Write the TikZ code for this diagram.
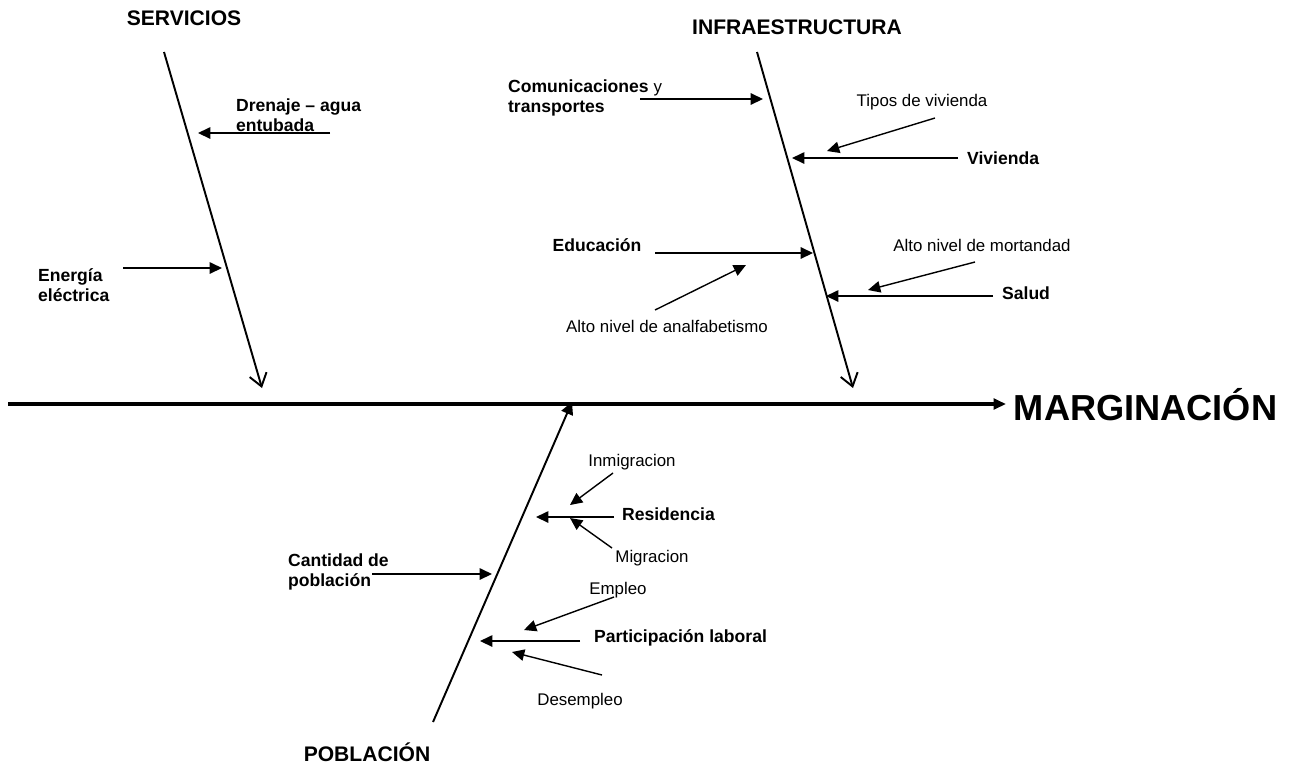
\documentclass[tikz,border=0pt]{standalone}
\usepackage{fontspec}
\setmainfont{Liberation Sans}
\usetikzlibrary{arrows.meta,positioning}

\begin{document}
\begin{tikzpicture}[x=0.02cm, y=-0.02cm,
    head/.style={font=\fontsize{12}{14}\selectfont\bfseries},
    cause/.style={font=\fontsize{10}{11.5}\selectfont\bfseries, align=left, inner sep=1pt},
    sub/.style={font=\fontsize{9.6}{11}\selectfont, inner sep=1pt},
    spine/.style={line width=1.1pt, -{Straight Barb[length=7pt,width=10pt]}},
    pop/.style={line width=1.1pt, -{Triangle[length=7pt,width=7pt]}},
    arrow/.style={line width=0.8pt, -{Triangle[length=7pt,width=6.5pt]}},
    mainline/.style={line width=2.8pt, -{Triangle[length=7pt,width=6pt]}}]

    \useasboundingbox (0,0) rectangle (1293,765);

    % Main spine
    \coordinate (m0) at (8,404);
    \coordinate (m1) at (1006,404);
    \node[font=\fontsize{20.6}{24}\selectfont\bfseries, anchor=west, inner sep=2pt] (marg) at (1010,405) {MARGINACIÓN};
    \draw[mainline] (m0) -- (m1);

    % Servicios
    \node[head] (serv) at (184,18) {SERVICIOS};
    \coordinate (s0) at (164,52);
    \coordinate (s1) at (262,388);
    \draw[spine] (s0) -- (s1);

    \node[cause, anchor=west] (drenaje) at (234,115) {Drenaje -- agua\\entubada};
    \coordinate (d0) at (330,133);
    \coordinate (d1) at (198,133);
    \draw[arrow] (d0) -- (d1);

    \node[cause, anchor=west] (energia) at (36,285) {Energía\\eléctrica};
    \coordinate (e0) at (123,268);
    \coordinate (e1) at (222,268);
    \draw[arrow] (e0) -- (e1);

    % Infraestructura
    \node[head] (infra) at (797,27) {INFRAESTRUCTURA};
    \coordinate (i0) at (757,52);
    \coordinate (i1) at (853,388);
    \draw[spine] (i0) -- (i1);

    \node[cause, anchor=west] (comun) at (506,98) {Comunicaciones {\mdseries\fontsize{9.6}{11}\selectfont y}\\transportes};
    \coordinate (c0) at (640,99);
    \coordinate (c1) at (763,99);
    \draw[arrow] (c0) -- (c1);

    \node[sub] (tipos) at (922,102) {Tipos de vivienda};
    \coordinate (t0) at (935,118);
    \coordinate (t1) at (827,151);
    \draw[arrow] (t0) -- (t1);

    \node[cause, anchor=west] (vivienda) at (965,158) {Vivienda};
    \coordinate (v0) at (958,158);
    \coordinate (v1) at (792,158);
    \draw[arrow] (v0) -- (v1);

    \node[cause] (educ) at (597,245) {Educación};
    \coordinate (ed0) at (655,253);
    \coordinate (ed1) at (813,253);
    \draw[arrow] (ed0) -- (ed1);

    \node[sub] (analf) at (667,326) {Alto nivel de analfabetismo};
    \coordinate (a0) at (655,310);
    \coordinate (a1) at (746,265);
    \draw[arrow] (a0) -- (a1);

    \node[sub] (mort) at (982,245) {Alto nivel de mortandad};
    \coordinate (mo0) at (975,262);
    \coordinate (mo1) at (868,290);
    \draw[arrow] (mo0) -- (mo1);

    \node[cause, anchor=west] (salud) at (1000,293) {Salud};
    \coordinate (sa0) at (993,296);
    \coordinate (sa1) at (826,296);
    \draw[arrow] (sa0) -- (sa1);

    % Poblacion
    \node[head] (pobl) at (367,752) {POBLACIÓN};
    \coordinate (p0) at (433,722);
    \coordinate (p1) at (572,402);
    \draw[pop] (p0) -- (p1);

    \node[cause, anchor=west] (cant) at (286,572) {Cantidad de\\población};
    \coordinate (ca0) at (372,574);
    \coordinate (ca1) at (492,574);
    \draw[arrow] (ca0) -- (ca1);

    \node[sub] (inmig) at (632,462) {Inmigracion};
    \coordinate (in0) at (613,473);
    \coordinate (in1) at (570,505);
    \draw[arrow] (in0) -- (in1);

    \node[cause, anchor=west] (resid) at (620,514) {Residencia};
    \coordinate (r0) at (614,517);
    \coordinate (r1) at (536,517);
    \draw[arrow] (r0) -- (r1);

    \node[sub] (migr) at (652,558) {Migracion};
    \coordinate (mi0) at (612,548);
    \coordinate (mi1) at (570,518);
    \draw[arrow] (mi0) -- (mi1);

    \node[sub] (empleo) at (618,590) {Empleo};
    \coordinate (em0) at (614,597);
    \coordinate (em1) at (524,630);
    \draw[arrow] (em0) -- (em1);

    \node[cause, anchor=west] (partic) at (592,638) {Participación laboral};
    \coordinate (pa0) at (580,641);
    \coordinate (pa1) at (480,641);
    \draw[arrow] (pa0) -- (pa1);

    \node[sub] (desemp) at (580,701) {Desempleo};
    \coordinate (de0) at (602,675);
    \coordinate (de1) at (512,652);
    \draw[arrow] (de0) -- (de1);
\end{tikzpicture}
\end{document}
